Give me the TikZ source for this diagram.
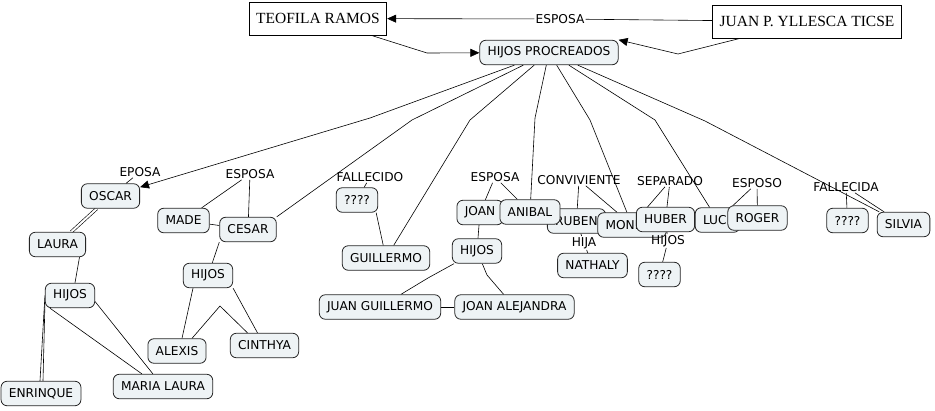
\documentclass[tikz,border=0pt]{standalone}
\usepackage{fontspec}
\newfontfamily\mapfont{DejaVu Sans}
\newfontfamily\boxfont{Liberation Serif}
\usetikzlibrary{arrows.meta,backgrounds}
\definecolor{conceptfill}{HTML}{EEF3F5}
\begin{document}
\begin{tikzpicture}[x=1pt,y=-1pt,
    concept/.style={draw=black!85,line width=0.8pt,fill=conceptfill,rounded corners=6pt,
      font=\mapfont\fontsize{12.2}{14}\selectfont,inner xsep=7.8pt,inner ysep=0pt,minimum height=24.5pt},
    person/.style={draw,line width=0.8pt,font=\boxfont\fontsize{15.5}{18}\selectfont,
      inner xsep=7pt,minimum height=33pt},
    phrase/.style={font=\mapfont\fontsize{12.2}{14}\selectfont,inner sep=1pt},
    link/.style={line width=0.6pt},
    arrow/.style={link,-{Triangle[length=9pt,width=8pt]}}]
            \useasboundingbox (0,0) rectangle (935,410);

            \node[person] (teofila) at (318,18.5) {TEOFILA RAMOS};
            \node[person] (juan) at (807,21.5) {JUAN P. YLLESCA TICSE};
            \node[phrase] (esposa) at (560,19) {ESPOSA};
            \node[concept] (hp) at (549,52.5) {HIJOS PROCREADOS};
            \coordinate (tb) at (427,53);
            \coordinate (jb) at (678,54);
            \coordinate (b1) at (370,118);
            \coordinate (b2) at (412,120);
            \coordinate (b3) at (470,120);
            \coordinate (b4) at (535,118);
            \coordinate (b5) at (590,120);
            \coordinate (b6) at (655,120);
            \coordinate (b7) at (705,121);

            % oscar
            \node[phrase] (eposa) at (140,172) {EPOSA};
            \node[concept] (oscar) at (110.5,196) {OSCAR};
            \node[concept] (laura) at (57.5,244.5) {LAURA};
            \node[concept] (hijosa) at (70,295.5) {HIJOS};
            \node[concept] (enrinque) at (41,393.5) {ENRINQUE};
            \node[concept] (mlaura) at (163,386.5) {MARIA LAURA};

            % cesar
            \node[phrase] (esposab) at (250,174) {ESPOSA};
            \node[concept] (made) at (183.5,220.5) {MADE};
            \node[concept] (cesar) at (248,229.5) {CESAR};
            \node[concept] (hijosb) at (208,275.5) {HIJOS};
            \node[concept] (alexis) at (177,351) {ALEXIS};
            \node[concept] (cinthya) at (264.5,345.5) {CINTHYA};
            \coordinate (ab) at (220,306);

            % guillermo, anibal
            \node[phrase] (fallecido) at (370,177) {FALLECIDO};
            \node[concept] (qa) at (357,200) {????};
            \node[concept] (guillermo) at (386,258) {GUILLERMO};
            \node[phrase] (esposac) at (495,177) {ESPOSA};
            \node[concept] (joan) at (480,212.5) {JOAN};
            \node[concept] (ruben) at (576.5,221) {RUBEN};
            \node[concept] (anibal) at (530,212) {ANIBAL};
            \node[concept] (hijosc) at (477,251) {HIJOS};
            \coordinate (gb) at (428,278);
            \coordinate (jab) at (487,275);
            \node[concept] (jguillermo) at (380,307) {JUAN GUILLERMO};
            \node[concept] (jalejandra) at (514.5,307) {JOAN ALEJANDRA};

            % ruben ... silvia
            \node[phrase] (conviviente) at (579,180) {CONVIVIENTE};
            \node[concept, text width=53pt, align=left] (moni) at (632,225) {MONI};
            \node[phrase] (hija) at (584,243) {HIJA};
            \node[concept] (nathaly) at (592.5,265.5) {NATHALY};
            \node[phrase] (separado) at (670,181) {SEPARADO};
            \node[concept] (huber) at (665.5,219.5) {HUBER};
            \node[phrase] (hijosd) at (668,241) {HIJOS};
            \node[concept] (qb) at (659.5,274.5) {????};
            \node[phrase] (esposo) at (757,183) {ESPOSO};
            \node[concept, text width=29pt, align=left] (lucy) at (717.5,220) {LUC};
            \node[concept] (roger) at (757.5,218) {ROGER};
            \node[phrase] (fallecida) at (846,187) {FALLECIDA};
            \node[concept] (qc) at (847.5,220.5) {????};
            \node[concept] (silvia) at (903.5,224.5) {SILVIA};

            \begin{scope}[on background layer]
            \fill[white] (0,0) rectangle (935,410);
            \draw[link] (juan) -- (esposa);
            \draw[arrow] (esposa) -- (teofila);
            \draw[link] (teofila) -- (tb);
            \draw[arrow] (tb) -- (hp);
            \draw[link] (juan) -- (jb);
            \draw[arrow] (jb) -- (hp.north east);

            \draw[link] (hp) -- (b1);
            \draw[arrow] (b1) -- (oscar);
            \draw[link] (hp) -- (b2) -- (cesar.north east);
            \draw[link] (hp) -- (b3) -- (guillermo);
            \draw[link] (hp) -- (b4) -- (anibal);
            \draw[link] (hp) -- (b5) -- (moni);
            \draw[link] (hp) -- (b6) -- (lucy);
            \draw[link] (hp) -- (b7) -- (silvia);

            \draw[link] (eposa) -- (oscar);
            \draw[link, double, double distance=2pt] (oscar) -- (laura);
            \draw[link] ([xshift=22]laura.south) -- ([xshift=5]hijosa.north);
            \draw[link] (hijosa.west) -- ([xshift=-1]enrinque.north);
            \draw[link] ([yshift=-8]hijosa.west) -- ([xshift=2]enrinque.north);
            \draw[link] ([xshift=5]hijosa.south west) -- ([xshift=29]mlaura.north west);
            \draw[link] ([yshift=-6]hijosa.east) -- ([xshift=40]mlaura.north west);

            \draw[link] (esposab) -- (made);
            \draw[link] (esposab) -- (cesar);
            \draw[link] (made) -- (cesar);
            \draw[link] (cesar.south west) -- (hijosb);
            \draw[link] ([xshift=-15]hijosb.south) -- ([xshift=5]alexis.north);
            \draw[link] (hijosb.south east) -- ([xshift=-7]cinthya.north);
            \draw[link] ([xshift=15]alexis.north) -- (ab) -- ([xshift=-17]cinthya.north);

            \draw[link] (fallecido) -- (qa);
            \draw[link] ([xshift=-2]qa.south east) -- (guillermo);
            \draw[link] (esposac) -- (joan);
            \draw[link] (esposac) -- (anibal);
            \draw[link] (joan) -- (hijosc);
            \draw[link] (hijosc) -- (gb) -- (jguillermo);
            \draw[link] (hijosc) -- (jab) -- (jalejandra);
            \draw[link] (jguillermo) -- (jalejandra);

            \draw[link] (conviviente) -- (ruben);
            \draw[link] (conviviente) -- (moni);
            \draw[link] (ruben) -- (hija);
            \draw[link] (hija) -- (nathaly);
            \draw[link] (separado) -- (moni);
            \draw[link] (separado) -- (huber);
            \draw[link] (huber) -- (hijosd);
            \draw[link] (hijosd) -- (qb);
            \draw[link] (esposo) -- (lucy);
            \draw[link] (esposo) -- (roger);
            \draw[link] (fallecida) -- (qc);
            \draw[link] (fallecida) -- (silvia);
            \end{scope}
        \end{tikzpicture}
\end{document}
